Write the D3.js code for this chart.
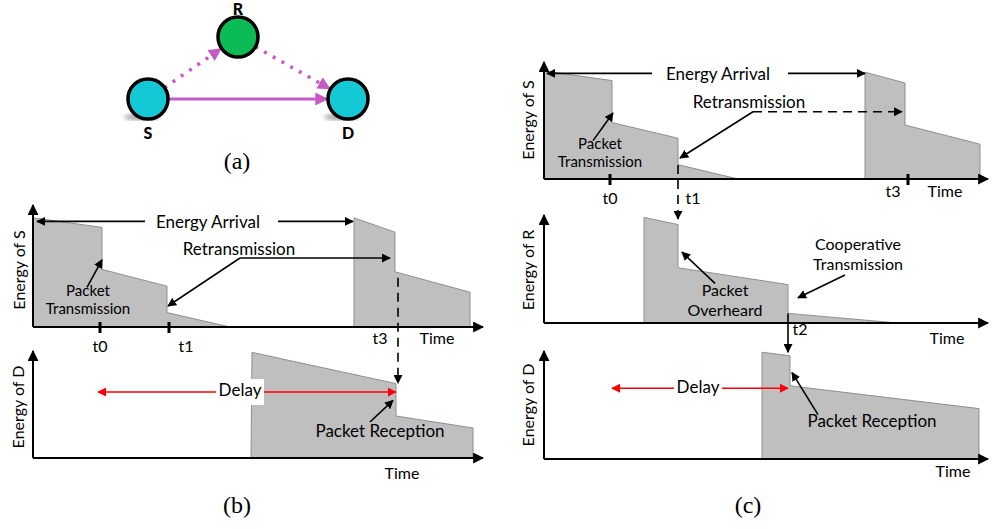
<!DOCTYPE html>
<html>
<head>
<meta charset="utf-8">
<script src="https://cdn.jsdelivr.net/npm/d3@7"></script>
<style>
  body { margin: 0; background: #fff; }
  svg { display: block; font-family: Lato, "Open Sans", sans-serif; }
</style>
</head>
<body>
<svg id="fig" width="992" height="529"></svg>
<script>
// energy profiles, [time, energy]
const sourceB1 = [[0, 0], [0, 91], [69, 83], [69, 48], [134, 34], [134, 12], [197, 0]];
const sourceB2 = [[321, 0], [321, 91], [362, 79], [362, 46], [437, 29], [437, 0]];
const destB = [[218, 0], [219, 88], [363, 62], [363, 35], [440, 25], [440, 0]];
const sourceC1 = [[0, 0], [0, 90], [68, 82], [68, 47], [134, 34], [134, 12], [194, 0]];
const sourceC2 = [[321, 0], [321, 89], [361, 80], [361, 45], [436, 29], [436, 0]];
const relayC = [[100, 0], [100, 88], [134, 82], [134, 46], [244, 32], [244, 8], [354, 0]];
const destC = [[218, 0], [218, 89], [246, 86], [246, 61], [435, 42], [435, 0]];

const nodeNames = ['S', 'R', 'D'];
const linkPairs = [['S', 'D'], ['S', 'R'], ['R', 'D']];
const yLabels = ['Energy of S', 'Energy of D', 'Energy of S', 'Energy of R', 'Energy of D'];
const subLabels = ['(a)', '(b)', '(c)'];

var svg = d3.select('#fig');
var defs = svg.append('defs');

function marker(id, color, size) {
  defs.append('marker').attr('id', id)
      .attr('viewBox', '0 0 10 10').attr('refX', 9).attr('refY', 5)
      .attr('markerWidth', size).attr('markerHeight', size)
      .attr('markerUnits', 'userSpaceOnUse').attr('orient', 'auto-start-reverse')
      .append('path').attr('d', 'M0,0L10,5L0,10Z').attr('fill', color);
}
marker('blk', '#000', 9);
marker('axis', '#000', 11);
marker('red', '#ff0000', 9);
marker('mag', '#c65bc6', 13);

var blur = defs.append('filter').attr('id', 'blur');
blur.append('feGaussianBlur').attr('stdDeviation', 2);

// ---- (a) network sketch
var nodePos = { S: [148, 99], R: [238, 37], D: [348, 99] };
var nodeFill = { S: '#14c9d5', R: '#0bbb55', D: '#14c9d5' };
var r = 20;

['S', 'D'].forEach(function(n) {
  svg.append('ellipse').attr('cx', nodePos[n][0] - 6).attr('cy', nodePos[n][1] + 18)
     .attr('rx', 18).attr('ry', 3).attr('fill', '#999').attr('filter', 'url(#blur)');
});

linkPairs.forEach(function(pair) {
  var a = nodePos[pair[0]], b = nodePos[pair[1]];
  var dx = b[0] - a[0], dy = b[1] - a[1], len = Math.hypot(dx, dy);
  var ux = dx / len, uy = dy / len;
  var dotted = pair[0] === 'R' || pair[1] === 'R';
  svg.append('line')
     .attr('x1', a[0] + ux * r).attr('y1', a[1] + uy * r)
     .attr('x2', b[0] - ux * (r + 1)).attr('y2', b[1] - uy * (r + 1))
     .attr('stroke', '#c65bc6').attr('stroke-width', dotted ? 3.5 : 3)
     .attr('stroke-dasharray', dotted ? '3,7' : null)
     .attr('marker-end', 'url(#mag)');
});

nodeNames.forEach(function(n) {
  svg.append('circle').attr('cx', nodePos[n][0]).attr('cy', nodePos[n][1]).attr('r', r)
     .attr('fill', nodeFill[n]).attr('stroke', '#000').attr('stroke-width', 3.5);
  svg.append('text').attr('x', nodePos[n][0]).attr('y', n === 'R' ? nodePos[n][1] - 22 : nodePos[n][1] + 40)
     .attr('text-anchor', 'middle').attr('font-weight', 900).attr('font-size', 16).text(n);
});

// ---- (b), (c) energy panels
var panels = {
  bS: { x0: 33, y0: 327, xEnd: 483, yTop: 205, series: [sourceB1, sourceB2], label: yLabels[0], lx: 21, ly: 270 },
  bD: { x0: 33, y0: 458, xEnd: 483, yTop: 351, series: [destB], label: yLabels[1], lx: 20, ly: 407 },
  cS: { x0: 544, y0: 179, xEnd: 988, yTop: 62, series: [sourceC1, sourceC2], label: yLabels[2], lx: 530, ly: 120 },
  cR: { x0: 544, y0: 323, xEnd: 988, yTop: 215, series: [relayC], label: yLabels[3], lx: 530, ly: 270 },
  cD: { x0: 544, y0: 459, xEnd: 988, yTop: 351, series: [destC], label: yLabels[4], lx: 530, ly: 405 }
};

var area = d3.line().curve(d3.curveLinearClosed);

Object.keys(panels).forEach(function(k) {
  var p = panels[k];
  p.x = d3.scaleLinear().domain([0, 450]).range([p.x0, p.x0 + 450]);
  p.y = d3.scaleLinear().domain([0, 100]).range([p.y0, p.y0 - 120]);
  area.x(d => p.x(d[0])).y(d => p.y(d[1]));
  p.series.forEach(function(s) {
    svg.append('path').attr('d', area(s))
       .attr('fill', '#bfbfbf').attr('stroke', '#8f8f8f').attr('stroke-width', 1);
  });
  svg.append('line').attr('x1', p.x0).attr('y1', p.y0).attr('x2', p.xEnd).attr('y2', p.y0)
     .attr('stroke', '#000').attr('stroke-width', 2).attr('marker-end', 'url(#axis)');
  svg.append('line').attr('x1', p.x0).attr('y1', p.y0).attr('x2', p.x0).attr('y2', p.yTop)
     .attr('stroke', '#000').attr('stroke-width', 2).attr('marker-end', 'url(#axis)');
  svg.append('text').attr('transform', 'translate(' + p.lx + ',' + p.ly + ') rotate(-90)')
     .attr('text-anchor', 'middle').attr('dominant-baseline', 'middle')
     .attr('font-size', 16).text(p.label);
});

// annotations in each panel's own time / energy units
var notes = [
  { p: 'bS', t: 175, e: 86, lines: ['Energy Arrival'] },
  { p: 'bS', t: 206, e: 64, lines: ['Retransmission'] },
  { p: 'bS', t: 55, e: 29, gap: 18, size: 15, lines: ['Packet', 'Transmission'] },
  { p: 'bD', t: 347, e: 21, lines: ['Packet Reception'] },
  { p: 'cS', t: 174, e: 86, lines: ['Energy Arrival'] },
  { p: 'cS', t: 205, e: 63, lines: ['Retransmission'] },
  { p: 'cS', t: 56, e: 28.3, gap: 18, size: 15, lines: ['Packet', 'Transmission'] },
  { p: 'cR', t: 181, e: 25.8, gap: 20, size: 16, lines: ['Packet', 'Overheard'] },
  { p: 'cR', t: 314, e: 64.2, gap: 20, size: 16, lines: ['Cooperative', 'Transmission'] },
  { p: 'cD', t: 328, e: 30, lines: ['Packet Reception'] }
];

var pointers = [
  { p: 'bS', pts: [[112, 88], [4, 88]] },
  { p: 'bS', pts: [[245, 88], [320, 88]] },
  { p: 'bS', pts: [[207, 57.5], [357, 57.5]] },
  { p: 'bS', pts: [[207, 57.5], [135, 17.5]] },
  { p: 'bS', pts: [[54, 33], [69, 56]] },
  { p: 'bD', pts: [[337, 30], [360, 48]] },
  { p: 'cS', pts: [[108, 88], [3, 88]] },
  { p: 'cS', pts: [[244, 88], [321, 88]] },
  { p: 'cS', pts: [[209, 56], [358, 56]], dash: '9,6' },
  { p: 'cS', pts: [[209, 56], [136, 17.5]] },
  { p: 'cS', pts: [[49, 32], [69, 55]] },
  { p: 'cR', pts: [[171, 33], [138, 59]] },
  { p: 'cR', pts: [[301, 40], [254, 21]] },
  { p: 'cD', pts: [[274, 37], [248, 72]] }
];

var ticks = [
  { p: 'bS', t: 67 }, { p: 'bS', t: 136 },
  { p: 'cS', t: 66 }, { p: 'cS', t: 364 }
];

var tickLabels = [
  { p: 'bS', t: 67, dy: 21, text: 't0' },
  { p: 'bS', t: 153, dy: 21, text: 't1' },
  { p: 'bS', t: 347, dy: 13, text: 't3' },
  { p: 'bS', t: 404, dy: 13, text: 'Time' },
  { p: 'bD', t: 369, dy: 17, text: 'Time' },
  { p: 'cS', t: 66, dy: 21, text: 't0' },
  { p: 'cS', t: 149, dy: 21, text: 't1' },
  { p: 'cS', t: 349, dy: 14, text: 't3' },
  { p: 'cS', t: 401, dy: 14, text: 'Time' },
  { p: 'cR', t: 256, dy: 8, text: 't2' },
  { p: 'cR', t: 403, dy: 17, text: 'Time' },
  { p: 'cD', t: 409, dy: 14, text: 'Time' }
];

// vertical links between stacked panels
var drops = [
  { from: 'bS', to: 'bD', t: 365, e1: 41, e2: 62.5, dash: '9,6' },
  { from: 'cS', to: 'cR', t: 134, e1: 11.7, e2: 86.7, dash: '9,6' },
  { from: 'cR', to: 'cD', t: 244, e1: 8, e2: 89 }
];

var delays = [
  { p: 'bD', t1: 65, t2: 363, e: 55, tl: 207 },
  { p: 'cD', t1: 68, t2: 244, e: 59, tl: 154 }
];

ticks.forEach(function(d) {
  var p = panels[d.p];
  svg.append('line').attr('x1', p.x(d.t)).attr('x2', p.x(d.t))
     .attr('y1', p.y0 - 5).attr('y2', p.y0 + 6).attr('stroke', '#000').attr('stroke-width', 3);
});

drops.forEach(function(d) {
  var a = panels[d.from], b = panels[d.to];
  svg.append('line').attr('x1', a.x(d.t)).attr('x2', a.x(d.t))
     .attr('y1', a.y(d.e1)).attr('y2', b.y(d.e2))
     .attr('stroke', '#000').attr('stroke-width', 1.6)
     .attr('stroke-dasharray', d.dash || null).attr('marker-end', 'url(#blk)');
});

pointers.forEach(function(d) {
  var p = panels[d.p];
  svg.append('path').attr('d', d3.line()(d.pts.map(q => [p.x(q[0]), p.y(q[1])])))
     .attr('fill', 'none').attr('stroke', '#000').attr('stroke-width', 1.6)
     .attr('stroke-dasharray', d.dash || null).attr('marker-end', 'url(#blk)');
});

delays.forEach(function(d) {
  var p = panels[d.p];
  svg.append('line').attr('x1', p.x(d.t1)).attr('x2', p.x(d.t2))
     .attr('y1', p.y(d.e)).attr('y2', p.y(d.e))
     .attr('stroke', '#ff0000').attr('stroke-width', 1.6)
     .attr('marker-start', 'url(#red)').attr('marker-end', 'url(#red)');
  svg.append('rect').attr('x', p.x(d.tl) - 24).attr('y', p.y(d.e) - 13)
     .attr('width', 48).attr('height', 26).attr('fill', '#fff');
  svg.append('text').attr('x', p.x(d.tl)).attr('y', p.y(d.e))
     .attr('text-anchor', 'middle').attr('dominant-baseline', 'middle')
     .attr('font-size', 17).text('Delay');
});

notes.forEach(function(d) {
  var p = panels[d.p];
  d.lines.forEach(function(line, i) {
    svg.append('text').attr('text-anchor', 'middle').attr('font-size', d.size || 17)
       .attr('x', p.x(d.t)).attr('y', p.y(d.e) + i * (d.gap || 0))
       .attr('dominant-baseline', 'middle').text(line);
  });
});

tickLabels.forEach(function(d) {
  var p = panels[d.p];
  svg.append('text').attr('x', p.x(d.t)).attr('y', p.y0 + d.dy)
     .attr('text-anchor', 'middle').attr('dominant-baseline', 'middle')
     .attr('font-size', 16).text(d.text);
});

// sub-figure captions
[[237, 163], [237, 507], [748, 507]].forEach(function(pos, i) {
  svg.append('text').attr('x', pos[0]).attr('y', pos[1])
     .attr('text-anchor', 'middle').attr('dominant-baseline', 'middle')
     .style('font-family', '"Liberation Serif", "DejaVu Serif", serif').attr('font-size', 24)
     .text(subLabels[i]);
});
</script>
</body>
</html>
